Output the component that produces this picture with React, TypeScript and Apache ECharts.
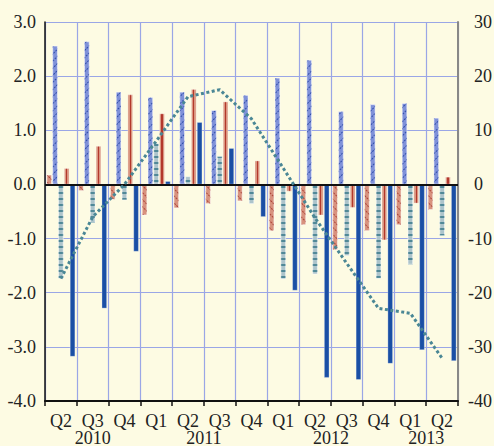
import React, { useEffect, useRef } from "react";
import * as echarts from "echarts";

const quarters = ["Q2", "Q3", "Q4", "Q1", "Q2", "Q3", "Q4", "Q1", "Q2", "Q3", "Q4", "Q1", "Q2"];
const quarterYears = ["2010", "2010", "2010", "2011", "2011", "2011", "2011", "2012", "2012", "2012", "2012", "2013", "2013"];

const salmonHatched = [0.18, -0.12, -0.28, -0.57, -0.44, -0.36, -0.31, -0.86, -0.75, -1.21, -0.86, -0.75, -0.47];
const blueHatched = [2.56, 2.64, 1.71, 1.61, 1.71, 1.37, 1.65, 1.97, 2.3, 1.35, 1.48, 1.5, 1.23];
const lightStriped = [-1.74, -0.71, -0.29, 0.76, 0.15, 0.52, -0.36, -1.75, -1.66, -1.32, -1.74, -1.48, -0.95];
const salmonRed = [0.3, 0.71, 1.66, 1.31, 1.76, 1.53, 0.44, -0.13, -0.57, -0.43, -1.03, -0.35, 0.14];
const darkBlue = [-3.18, -2.29, -1.24, 0.06, 1.15, 0.67, -0.6, -1.96, -3.57, -3.61, -3.31, -3.06, -3.26];
const rightLine = [-17.4, -6.0, 0, 8.0, 16.2, 17.5, 12.1, 3.0, -6.2, -14.6, -22.9, -23.8, -32.1];

const leftTicks = { min: -4, max: 3, interval: 1 };
const rightTicks = { min: -40, max: 30, interval: 10 };

const FONT = "'Liberation Serif', 'Times New Roman', serif";

export default function App() {
  const ref = useRef<HTMLDivElement>(null);

  useEffect(() => {
    if (!ref.current) return;
    const chart = echarts.init(ref.current, undefined, { renderer: "svg" });

    const yearCenters: Record<string, number> = {};
    const uniqueYears = Array.from(new Set(quarterYears));
    uniqueYears.forEach((y) => {
      const first = quarterYears.indexOf(y);
      const last = quarterYears.lastIndexOf(y);
      yearCenters[String((first + last + 1) / 2)] = Number(y);
    });

    const border = { borderColor: "rgba(255,255,255,0.5)", borderWidth: 0.6 };
    const BW = 5.3;
    const GAP = "10%";

    const option: any = {
      animation: false,
      backgroundColor: "#fdfbe3",
      textStyle: { fontFamily: FONT },
      grid: {
        left: 45,
        right: 36,
        top: 22,
        bottom: 45,
        containLabel: false,
        outerBoundsMode: "none",
      },
      xAxis: [
        {
          type: "category",
          data: quarters,
          position: "bottom",
          axisLine: { onZero: false, lineStyle: { color: "#111", width: 2 } },
          axisTick: { show: true, length: 5, lineStyle: { color: "#111", width: 1.5 } },
          axisLabel: {
            fontFamily: FONT,
            fontSize: 18,
            lineHeight: 16,
            color: "#222",
            margin: 12,
            interval: 0,
          },
          splitLine: { show: true, lineStyle: { color: "#9aa6e6", width: 1.2 } },
        },
        {
          type: "value",
          min: 0,
          max: quarters.length,
          interval: 0.5,
          position: "bottom",
          axisLine: { show: false },
          axisTick: { show: false },
          splitLine: { show: false },
          axisLabel: {
            fontFamily: FONT,
            fontSize: 18,
            lineHeight: 16,
            color: "#222",
            margin: 29,
            showMinLabel: true,
            showMaxLabel: true,
            formatter: (v: number) => {
              const k = String(v);
              return yearCenters[k] !== undefined ? String(yearCenters[k]) : "";
            },
          },
        },
      ],
      yAxis: [
        {
          type: "value",
          min: leftTicks.min,
          max: leftTicks.max,
          interval: leftTicks.interval,
          axisLine: { show: true, onZero: false, lineStyle: { color: "#111", width: 1.5 } },
          axisTick: { show: false },
          axisLabel: {
            fontFamily: FONT,
            fontSize: 18,
            color: "#222",
            margin: 9,
            formatter: (v: number) => v.toFixed(1),
          },
          splitLine: { show: true, lineStyle: { color: "#9aa6e6", width: 1.2 } },
        },
        {
          type: "value",
          min: rightTicks.min,
          max: rightTicks.max,
          interval: rightTicks.interval,
          position: "right",
          axisLine: { show: true, onZero: false, lineStyle: { color: "#888", width: 2 } },
          axisTick: { show: false },
          axisLabel: {
            fontFamily: FONT,
            fontSize: 18,
            color: "#222",
            margin: 34,
            align: "right",
            formatter: (v: number) => (v === 0 ? "{z|0}" : String(v)),
            rich: {
              z: { fontFamily: FONT, fontSize: 18, color: "#222", padding: [0, 9, 0, 0] },
            },
          },
          splitLine: { show: false },
        },
      ],
      series: [
        {
          type: "bar",
          data: salmonHatched,
          barWidth: BW,
          barGap: GAP,
          itemStyle: {
            color: "#d8927e",
            ...border,
            decal: {
              symbol: "rect",
              symbolSize: 1,
              dashArrayX: [2, 1],
              dashArrayY: [1, 3.5],
              rotation: Math.PI / 4,
              color: "rgba(165,55,45,0.85)",
            },
          },
        },
        {
          type: "bar",
          data: blueHatched,
          barWidth: BW,
          barGap: GAP,
          itemStyle: {
            color: "#7f91d9",
            ...border,
            decal: {
              symbol: "rect",
              symbolSize: 1,
              dashArrayX: [2, 1],
              dashArrayY: [1, 3.5],
              rotation: -Math.PI / 4,
              color: "rgba(40,70,165,0.9)",
            },
          },
        },
        {
          type: "bar",
          data: lightStriped,
          barWidth: BW,
          barGap: GAP,
          itemStyle: {
            color: "#adc4cb",
            ...border,
            decal: {
              symbol: "rect",
              symbolSize: 1,
              dashArrayX: [1, 0],
              dashArrayY: [1.2, 3.2],
              rotation: 0,
              color: "rgba(70,130,145,0.9)",
            },
          },
        },
        {
          type: "bar",
          data: salmonRed,
          barWidth: BW,
          barGap: GAP,
          itemStyle: {
            ...border,
            color: {
              type: "linear",
              x: 0,
              y: 0,
              x2: 1,
              y2: 0,
              colorStops: [
                { offset: 0, color: "#d9957f" },
                { offset: 0.38, color: "#d9957f" },
                { offset: 0.38, color: "#b3382c" },
                { offset: 0.62, color: "#b3382c" },
                { offset: 0.62, color: "#d9957f" },
                { offset: 1, color: "#d9957f" },
              ],
            },
          },
        },
        {
          type: "bar",
          data: darkBlue,
          barWidth: BW,
          barGap: GAP,
          itemStyle: { color: "#1a4fa5", ...border },
          markLine: {
            silent: true,
            symbol: ["none", "none"],
            label: { show: false },
            lineStyle: { color: "#111", width: 2, type: "solid" },
            data: [{ yAxis: 0 }],
          },
        },
        {
          type: "line",
          yAxisIndex: 1,
          data: rightLine,
          showSymbol: false,
          symbol: "none",
          z: 5,
          lineStyle: { color: "#4a8795", width: 3, type: [3, 2.5], cap: "butt" },
        },
      ],
    };

    chart.setOption(option);
    return () => chart.dispose();
  }, []);

  return (
    <div
      ref={ref}
      style={{ position: "fixed", left: 0, top: 0, width: 494, height: 446 }}
    />
  );
}
